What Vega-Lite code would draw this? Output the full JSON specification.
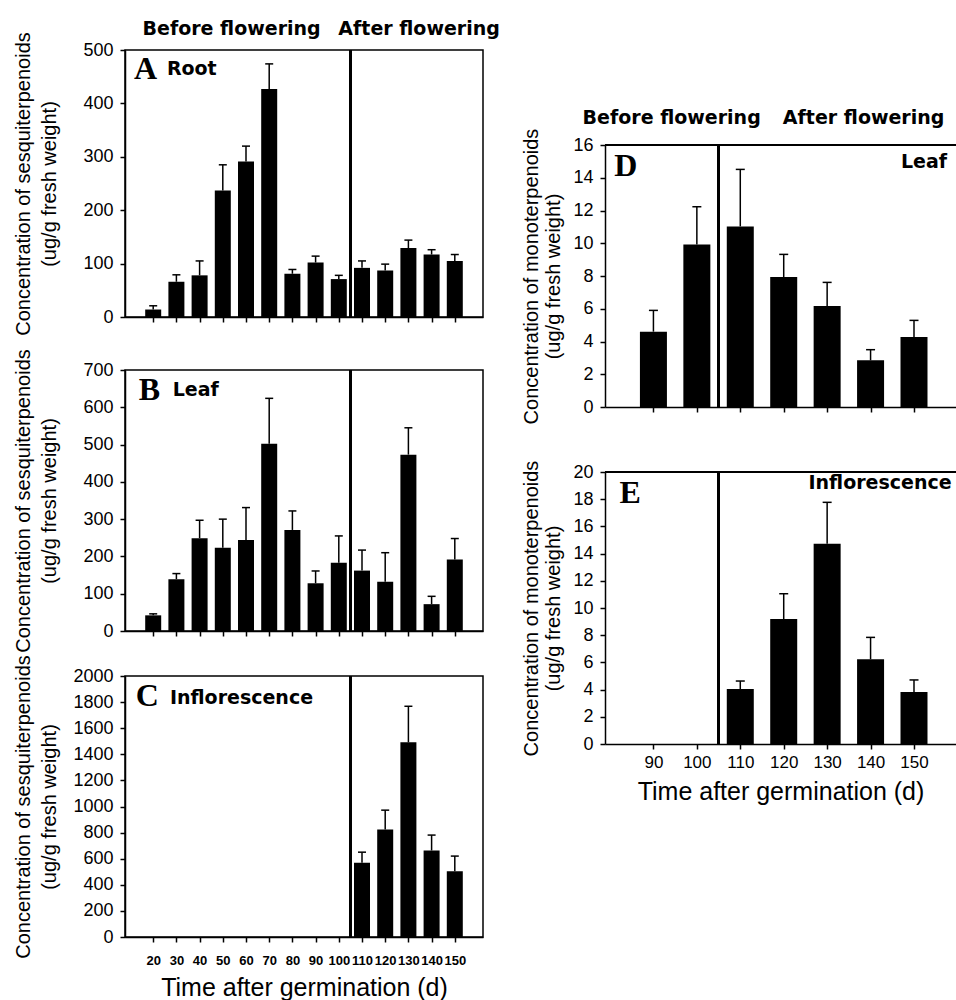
{
  "$schema": "https://vega.github.io/schema/vega-lite/v6.json",
  "background": "white",
  "padding": {"left": 12, "top": 19, "right": 0, "bottom": 0},
  "config": {
    "view": {"stroke": "black", "strokeWidth": 1.5},
    "axis": {"grid": false, "domainColor": "black", "domainWidth": 1.5, "tickColor": "black", "tickWidth": 1.5, "tickSize": 5, "labelColor": "black", "titleColor": "black", "labelFont": "Liberation Sans", "titleFont": "Liberation Sans", "titleFontWeight": "normal", "labelOverlap": false, "labelFlush": false, "tickCount": 40},
    "axisY": {"labelFontSize": 18, "labelPadding": 7, "titleFontSize": 20, "titleLineHeight": 26, "minExtent": 48, "maxExtent": 48, "titlePadding": 18, "format": "d"},
    "axisX": {"labelFontSize": 13, "labelFontWeight": "bold", "labelPadding": 12, "titleFontSize": 25, "titlePadding": 13, "minExtent": 25, "maxExtent": 25, "format": "d"}
  },
  "datasets": {
    "A": [
      {"day": 20, "mean": 14, "upper": 21}, {"day": 30, "mean": 66, "upper": 79}, {"day": 40, "mean": 78, "upper": 105},
      {"day": 50, "mean": 237, "upper": 285}, {"day": 60, "mean": 291, "upper": 320}, {"day": 70, "mean": 427, "upper": 474},
      {"day": 80, "mean": 81, "upper": 89}, {"day": 90, "mean": 102, "upper": 114}, {"day": 100, "mean": 71, "upper": 78},
      {"day": 110, "mean": 92, "upper": 105}, {"day": 120, "mean": 87, "upper": 99}, {"day": 130, "mean": 129, "upper": 144},
      {"day": 140, "mean": 117, "upper": 126}, {"day": 150, "mean": 105, "upper": 117}
    ],
    "B": [
      {"day": 20, "mean": 42, "upper": 46}, {"day": 30, "mean": 139, "upper": 154}, {"day": 40, "mean": 249, "upper": 297},
      {"day": 50, "mean": 223, "upper": 300}, {"day": 60, "mean": 244, "upper": 331}, {"day": 70, "mean": 502, "upper": 624},
      {"day": 80, "mean": 271, "upper": 322}, {"day": 90, "mean": 128, "upper": 161}, {"day": 100, "mean": 183, "upper": 255},
      {"day": 110, "mean": 162, "upper": 217}, {"day": 120, "mean": 132, "upper": 210}, {"day": 130, "mean": 473, "upper": 545},
      {"day": 140, "mean": 72, "upper": 93}, {"day": 150, "mean": 192, "upper": 248}
    ],
    "C": [
      {"day": 110, "mean": 569, "upper": 650}, {"day": 120, "mean": 824, "upper": 972}, {"day": 130, "mean": 1492, "upper": 1768},
      {"day": 140, "mean": 663, "upper": 781}, {"day": 150, "mean": 503, "upper": 620}
    ],
    "D": [
      {"day": 90, "mean": 4.6, "upper": 5.9}, {"day": 100, "mean": 9.93, "upper": 12.23}, {"day": 110, "mean": 11.03, "upper": 14.51},
      {"day": 120, "mean": 7.94, "upper": 9.32}, {"day": 130, "mean": 6.17, "upper": 7.61}, {"day": 140, "mean": 2.85, "upper": 3.5},
      {"day": 150, "mean": 4.27, "upper": 5.29}
    ],
    "E": [
      {"day": 110, "mean": 4.04, "upper": 4.63}, {"day": 120, "mean": 9.19, "upper": 11.05}, {"day": 130, "mean": 14.73, "upper": 17.77},
      {"day": 140, "mean": 6.23, "upper": 7.84}, {"day": 150, "mean": 3.82, "upper": 4.71}
    ],
    "one": [{}]
  },
  "bounds": "flush",
  "spacing": 480,
  "hconcat": [
    {
      "bounds": "flush",
      "spacing": 53,
      "vconcat": [
        {
          "width": 358, "height": 267,
          "data": {"name": "A"},
          "layer": [
            {"mark": {"type": "bar", "size": 16, "color": "black"},
             "encoding": {
               "x": {"field": "day", "type": "quantitative", "scale": {"domain": [10, 160], "nice": false, "zero": false},
                     "axis": {"values": [20,30,40,50,60,70,80,90,100,110,120,130,140,150], "tickCount": 40, "labels": false, "title": null}},
               "y": {"field": "mean", "type": "quantitative", "scale": {"domain": [0, 500], "nice": false},
                     "axis": {"values": [0,100,200,300,400,500], "tickCount": 40, "labelOverlap": false, "title": ["Concentration of sesquiterpenoids", "(ug/g fresh weight)"]}}}},
            {"mark": {"type": "rule", "color": "black", "strokeWidth": 1.5},
             "encoding": {"x": {"field": "day", "type": "quantitative"}, "y": {"field": "mean", "type": "quantitative"}, "y2": {"field": "upper"}}},
            {"mark": {"type": "tick", "orient": "horizontal", "size": 8, "thickness": 1.5, "color": "black", "opacity": 1},
             "encoding": {"x": {"field": "day", "type": "quantitative"}, "y": {"field": "upper", "type": "quantitative"}}},
            {"mark": {"type": "rule", "color": "black", "strokeWidth": 2.5}, "encoding": {"x": {"datum": 105}}},
            {"data": {"name": "one"}, "mark": {"type": "text", "text": "A", "font": "Liberation Serif", "fontWeight": "bold", "fontSize": 32, "align": "left", "baseline": "alphabetic", "color": "black"},
             "encoding": {"x": {"datum": 11.7}, "y": {"datum": 446}}},
            {"data": {"name": "one"}, "mark": {"type": "text", "text": "Root", "font": "DejaVu Sans", "fontWeight": "bold", "fontSize": 19, "align": "left", "baseline": "alphabetic", "color": "black"},
             "encoding": {"x": {"datum": 25.9}, "y": {"datum": 453}}},
            {"data": {"name": "one"}, "mark": {"type": "text", "text": "Before flowering", "font": "DejaVu Sans", "fontWeight": "bold", "fontSize": 19, "align": "center", "baseline": "alphabetic", "color": "black"},
             "encoding": {"x": {"datum": 53.8}, "y": {"datum": 528}}},
            {"data": {"name": "one"}, "mark": {"type": "text", "text": "After flowering", "font": "DejaVu Sans", "fontWeight": "bold", "fontSize": 19, "align": "center", "baseline": "alphabetic", "color": "black"},
             "encoding": {"x": {"datum": 134.6}, "y": {"datum": 528}}}
          ]
        },
        {
          "bounds": "flush",
          "spacing": 45,
          "vconcat": [
            {
              "width": 358, "height": 261,
              "data": {"name": "B"},
              "layer": [
                {"mark": {"type": "bar", "size": 16, "color": "black"},
                 "encoding": {
                   "x": {"field": "day", "type": "quantitative", "scale": {"domain": [10, 160], "nice": false, "zero": false},
                         "axis": {"values": [20,30,40,50,60,70,80,90,100,110,120,130,140,150], "tickCount": 40, "labels": false, "title": null}},
                   "y": {"field": "mean", "type": "quantitative", "scale": {"domain": [0, 700], "nice": false},
                         "axis": {"values": [0,100,200,300,400,500,600,700], "tickCount": 40, "labelOverlap": false, "title": ["Concentration of sesquiterpenoids", "(ug/g fresh weight)"]}}}},
                {"mark": {"type": "rule", "color": "black", "strokeWidth": 1.5},
                 "encoding": {"x": {"field": "day", "type": "quantitative"}, "y": {"field": "mean", "type": "quantitative"}, "y2": {"field": "upper"}}},
                {"mark": {"type": "tick", "orient": "horizontal", "size": 8, "thickness": 1.5, "color": "black", "opacity": 1},
                 "encoding": {"x": {"field": "day", "type": "quantitative"}, "y": {"field": "upper", "type": "quantitative"}}},
                {"mark": {"type": "rule", "color": "black", "strokeWidth": 2.5}, "encoding": {"x": {"datum": 105}}},
                {"data": {"name": "one"}, "mark": {"type": "text", "text": "B", "font": "Liberation Serif", "fontWeight": "bold", "fontSize": 32, "align": "left", "baseline": "alphabetic", "color": "black"},
                 "encoding": {"x": {"datum": 13.8}, "y": {"datum": 620}}},
                {"data": {"name": "one"}, "mark": {"type": "text", "text": "Leaf", "font": "DejaVu Sans", "fontWeight": "bold", "fontSize": 19, "align": "left", "baseline": "alphabetic", "color": "black"},
                 "encoding": {"x": {"datum": 28.4}, "y": {"datum": 631}}}
              ]
            },
            {
              "width": 358, "height": 261,
              "data": {"name": "C"},
              "layer": [
                {"mark": {"type": "bar", "size": 16, "color": "black"},
                 "encoding": {
                   "x": {"field": "day", "type": "quantitative", "scale": {"domain": [10, 160], "nice": false, "zero": false},
                         "axis": {"values": [20,30,40,50,60,70,80,90,100,110,120,130,140,150], "tickCount": 40, "labelOverlap": false, "title": "Time after germination (d)"}},
                   "y": {"field": "mean", "type": "quantitative", "scale": {"domain": [0, 2000], "nice": false},
                         "axis": {"values": [0,200,400,600,800,1000,1200,1400,1600,1800,2000], "tickCount": 40, "labelOverlap": false, "title": ["Concentration of sesquiterpenoids", "(ug/g fresh weight)"]}}}},
                {"mark": {"type": "rule", "color": "black", "strokeWidth": 1.5},
                 "encoding": {"x": {"field": "day", "type": "quantitative"}, "y": {"field": "mean", "type": "quantitative"}, "y2": {"field": "upper"}}},
                {"mark": {"type": "tick", "orient": "horizontal", "size": 8, "thickness": 1.5, "color": "black", "opacity": 1},
                 "encoding": {"x": {"field": "day", "type": "quantitative"}, "y": {"field": "upper", "type": "quantitative"}}},
                {"mark": {"type": "rule", "color": "black", "strokeWidth": 2.5}, "encoding": {"x": {"datum": 105}}},
                {"data": {"name": "one"}, "mark": {"type": "text", "text": "C", "font": "Liberation Serif", "fontWeight": "bold", "fontSize": 32, "align": "left", "baseline": "alphabetic", "color": "black"},
                 "encoding": {"x": {"datum": 12.5}, "y": {"datum": 1768}}},
                {"data": {"name": "one"}, "mark": {"type": "text", "text": "Inflorescence", "font": "DejaVu Sans", "fontWeight": "bold", "fontSize": 19, "align": "left", "baseline": "alphabetic", "color": "black"},
                 "encoding": {"x": {"datum": 27.2}, "y": {"datum": 1785}}}
              ]
            }
          ]
        }
      ]
    },
    {
      "bounds": "flush",
      "spacing": 65,
      "vconcat": [
        {"width": 351, "height": 30, "data": {"name": "one"}, "mark": {"type": "text", "text": ""}, "view": {"stroke": null}},
        {
          "width": 351, "height": 262,
          "data": {"name": "D"},
          "view": {"stroke": null},
          "layer": [
            {"mark": {"type": "bar", "size": 27, "color": "black"},
             "encoding": {
               "x": {"field": "day", "type": "quantitative", "scale": {"domain": [80, 158.52], "nice": false, "zero": false},
                     "axis": {"values": [90,100,110,120,130,140,150], "tickCount": 40, "labels": false, "title": null}},
               "y": {"field": "mean", "type": "quantitative", "scale": {"domain": [0, 16], "nice": false},
                     "axis": {"values": [0,2,4,6,8,10,12,14,16], "tickCount": 40, "labelOverlap": false, "title": ["Concentration of monoterpenoids", "(ug/g fresh weight)"], "minExtent": 32, "maxExtent": 32, "titlePadding": 10, "titleLineHeight": 22}}}},
            {"mark": {"type": "rule", "color": "black", "strokeWidth": 1.5},
             "encoding": {"x": {"field": "day", "type": "quantitative"}, "y": {"field": "mean", "type": "quantitative"}, "y2": {"field": "upper"}}},
            {"mark": {"type": "tick", "orient": "horizontal", "size": 9, "thickness": 1.5, "color": "black", "opacity": 1},
             "encoding": {"x": {"field": "day", "type": "quantitative"}, "y": {"field": "upper", "type": "quantitative"}}},
            {"mark": {"type": "rule", "color": "black", "strokeWidth": 2.5}, "encoding": {"x": {"datum": 105}}},
            {"mark": {"type": "rule", "color": "black", "strokeWidth": 1.5}, "encoding": {"y": {"datum": 16}}},
            {"data": {"name": "one"}, "mark": {"type": "text", "text": "D", "font": "Liberation Serif", "fontWeight": "bold", "fontSize": 32, "align": "left", "baseline": "alphabetic", "color": "black"},
             "encoding": {"x": {"datum": 81.0}, "y": {"datum": 14.1}}},
            {"data": {"name": "one"}, "mark": {"type": "text", "text": "Leaf", "font": "DejaVu Sans", "fontWeight": "bold", "fontSize": 19, "align": "right", "baseline": "alphabetic", "color": "black"},
             "encoding": {"x": {"datum": 157.6}, "y": {"datum": 14.6}}},
            {"data": {"name": "one"}, "mark": {"type": "text", "text": "Before flowering", "font": "DejaVu Sans", "fontWeight": "bold", "fontSize": 19, "align": "center", "baseline": "alphabetic", "color": "black"},
             "encoding": {"x": {"datum": 94.2}, "y": {"datum": 17.26}}},
            {"data": {"name": "one"}, "mark": {"type": "text", "text": "After flowering", "font": "DejaVu Sans", "fontWeight": "bold", "fontSize": 19, "align": "center", "baseline": "alphabetic", "color": "black"},
             "encoding": {"x": {"datum": 138.4}, "y": {"datum": 17.26}}}
          ]
        },
        {
          "width": 351, "height": 272,
          "data": {"name": "E"},
          "view": {"stroke": null},
          "layer": [
            {"mark": {"type": "bar", "size": 27, "color": "black"},
             "encoding": {
               "x": {"field": "day", "type": "quantitative", "scale": {"domain": [80, 158.52], "nice": false, "zero": false},
                     "axis": {"values": [90,100,110,120,130,140,150], "tickCount": 40, "labelOverlap": false, "title": "Time after germination (d)", "labelFontSize": 17, "labelFontWeight": "normal", "labelPadding": 5, "minExtent": 27, "maxExtent": 27, "titlePadding": 8}},
               "y": {"field": "mean", "type": "quantitative", "scale": {"domain": [0, 20], "nice": false},
                     "axis": {"values": [0,2,4,6,8,10,12,14,16,18,20], "tickCount": 40, "labelOverlap": false, "title": ["Concentration of monoterpenoids", "(ug/g fresh weight)"], "minExtent": 32, "maxExtent": 32, "titlePadding": 10, "titleLineHeight": 22}}}},
            {"mark": {"type": "rule", "color": "black", "strokeWidth": 1.5},
             "encoding": {"x": {"field": "day", "type": "quantitative"}, "y": {"field": "mean", "type": "quantitative"}, "y2": {"field": "upper"}}},
            {"mark": {"type": "tick", "orient": "horizontal", "size": 9, "thickness": 1.5, "color": "black", "opacity": 1},
             "encoding": {"x": {"field": "day", "type": "quantitative"}, "y": {"field": "upper", "type": "quantitative"}}},
            {"mark": {"type": "rule", "color": "black", "strokeWidth": 2.5}, "encoding": {"x": {"datum": 105}}},
            {"mark": {"type": "rule", "color": "black", "strokeWidth": 1.5}, "encoding": {"y": {"datum": 20}}},
            {"data": {"name": "one"}, "mark": {"type": "text", "text": "E", "font": "Liberation Serif", "fontWeight": "bold", "fontSize": 32, "align": "left", "baseline": "alphabetic", "color": "black"},
             "encoding": {"x": {"datum": 82.2}, "y": {"datum": 17.74}}},
            {"data": {"name": "one"}, "mark": {"type": "text", "text": "Inflorescence", "font": "DejaVu Sans", "fontWeight": "bold", "fontSize": 19, "align": "left", "baseline": "alphabetic", "color": "black", "clip": true},
             "encoding": {"x": {"datum": 125.7}, "y": {"datum": 18.75}}}
          ]
        }
      ]
    }
  ]
}
